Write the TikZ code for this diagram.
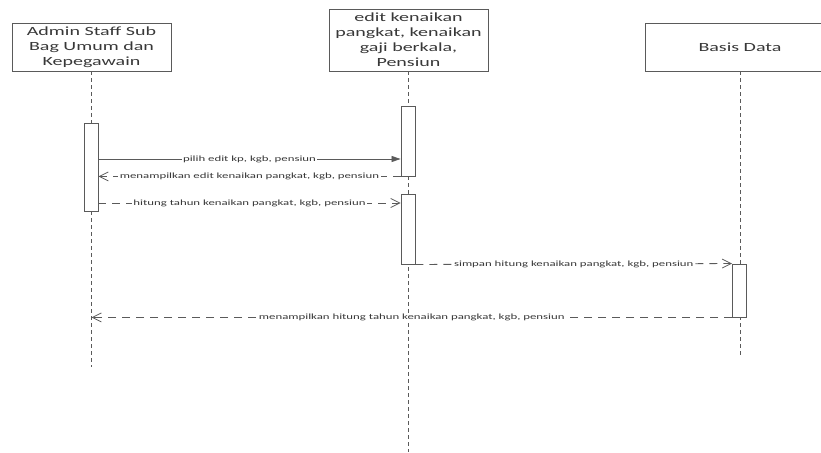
\documentclass[tikz,border=0pt]{standalone}
\usepackage{fontspec}
\setmainfont{Carlito}
\newfontfamily\headfont[FakeStretch=1.6]{Carlito}
\newfontfamily\msgfont[FakeStretch=1.6]{Carlito}
\usepackage{tikz}
\usetikzlibrary{arrows.meta, positioning, calc}

\definecolor{linegray}{HTML}{5A5A5A}
\definecolor{textgray}{HTML}{383838}

\begin{document}
\begin{tikzpicture}[
    x=1pt, y=-1pt,
    head/.style={rectangle, draw=linegray, fill=white, line width=0.9pt, minimum width=159pt, minimum height=48pt, align=center, text=textgray, font=\headfont\fontsize{12.5}{15}\selectfont},
    act/.style={rectangle, draw=linegray, fill=white, line width=0.9pt, minimum width=14pt, inner sep=0pt},
    lifeline/.style={draw=linegray, line width=0.9pt, dash pattern=on 4pt off 3pt},
    msg/.style={draw=linegray, line width=0.8pt},
    sync/.style={msg, -{Triangle[length=9pt,width=6pt]}},
    reply/.style={msg, dash pattern=on 8pt off 6pt, -{Straight Barb[length=9pt,width=9pt]}},
    lbl/.style={fill=white, inner xsep=1.5pt, inner ysep=0.5pt, text=textgray, font=\msgfont\fontsize{8}{9.6}\selectfont}
]
    \clip (0,0) rectangle (821,452);
    \useasboundingbox (0,0) rectangle (821,452);

    % lifelines
    \node (admin) [head] at (91.5,47) {Admin Staff Sub\\Bag Umum dan\\Kepegawain};
    \node (edit) [head, minimum height=62pt] at (408.5,40) {edit kenaikan\\pangkat, kenaikan\\gaji berkala,\\Pensiun};
    \node (db) [head, minimum width=190pt] at (740,47) {Basis Data};

    \coordinate (adminend) at (91.5,367);
    \coordinate (editend) at (408,452);
    \coordinate (dbend) at (740,358);

    \draw[lifeline] (admin.south) -- (adminend);
    \draw[lifeline] (edit.south -| editend) -- (editend);
    \draw[lifeline] (db.south) -- (dbend);

    % activations
    \node (act1) [act, minimum height=88pt] at (91,167) {};
    \node (act2a) [act, minimum height=70pt] at (408,141) {};
    \node (act2b) [act, minimum height=70pt] at (408,229) {};
    \node (act3) [act, minimum height=53pt] at (739.5,290.5) {};

    % messages
    \coordinate (r1) at (0,159);
    \coordinate (r3) at (0,203);

    \draw[sync] (act1.east |- r1) -- node[lbl]{pilih edit kp, kgb, pensiun} (act2a.west |- r1);
    \draw[reply] (act2a.south west) -- node[lbl]{menampilkan edit kenaikan pangkat, kgb, pensiun} (act1.east |- act2a.south);
    \draw[reply] (act1.east |- r3) -- node[lbl]{hitung tahun kenaikan pangkat, kgb, pensiun} (act2b.west |- r3);
    \draw[reply] (act2b.south east) -- node[lbl]{simpan hitung kenaikan pangkat, kgb, pensiun} (act3.north west);
    \draw[reply] (act3.south west) -- node[lbl]{menampilkan hitung tahun kenaikan pangkat, kgb, pensiun} (adminend |- act3.south);
\end{tikzpicture}
\end{document}
